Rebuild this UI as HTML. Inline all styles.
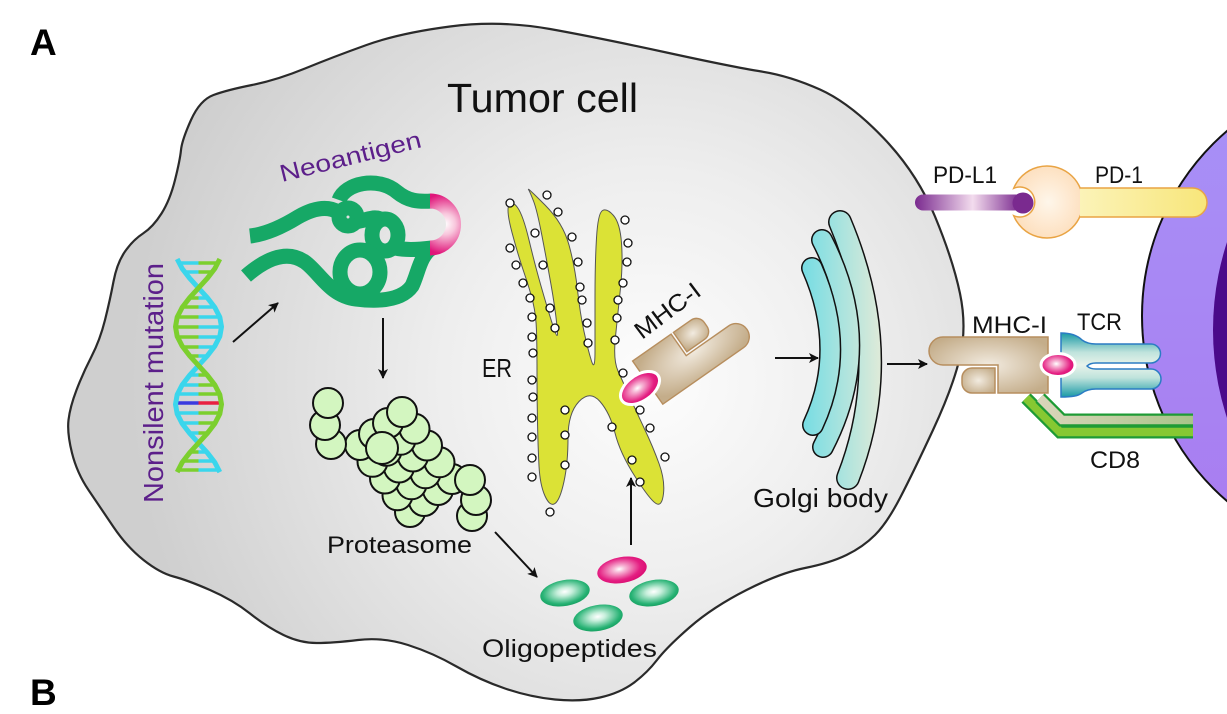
<!DOCTYPE html>
<html><head><meta charset="utf-8"><style>html,body{margin:0;padding:0;background:#fff}svg{display:block}</style></head>
<body>
<svg width="1227" height="714" viewBox="0 0 1227 714" xmlns="http://www.w3.org/2000/svg" font-family="'Liberation Sans', Arial, sans-serif">
<defs>
<radialGradient id="cellG" gradientUnits="userSpaceOnUse" cx="650" cy="380" r="520"><stop offset="0" stop-color="#fdfdfd"/><stop offset="0.4" stop-color="#eeeeee"/><stop offset="1" stop-color="#cfcfcf"/></radialGradient>
<linearGradient id="tG" x1="0" y1="0" x2="0" y2="1"><stop offset="0" stop-color="#a792f7"/><stop offset="1" stop-color="#a97bf0"/></linearGradient>
<radialGradient id="pinkG" cx="0.45" cy="0.45" r="0.6"><stop offset="0" stop-color="#fff"/><stop offset="0.2" stop-color="#f7b8d6"/><stop offset="0.7" stop-color="#e41f82"/><stop offset="1" stop-color="#d90a70"/></radialGradient>
<radialGradient id="grnG" cx="0.5" cy="0.45" r="0.6"><stop offset="0" stop-color="#fff"/><stop offset="0.25" stop-color="#c8efdc"/><stop offset="0.75" stop-color="#27b274"/><stop offset="1" stop-color="#109858"/></radialGradient>
<radialGradient id="mhcG" cx="0.5" cy="0.5" r="0.6"><stop offset="0" stop-color="#f2ebe0"/><stop offset="1" stop-color="#c4ad8a"/></radialGradient>
<linearGradient id="golG" gradientUnits="userSpaceOnUse" x1="800" y1="0" x2="885" y2="0"><stop offset="0" stop-color="#72dce4"/><stop offset="1" stop-color="#e4ebd8"/></linearGradient>
<linearGradient id="pdl1G" gradientUnits="userSpaceOnUse" x1="915" y1="0" x2="1020" y2="0"><stop offset="0" stop-color="#7a2a8f"/><stop offset="0.55" stop-color="#f3dcee"/><stop offset="1" stop-color="#7a2a8f"/></linearGradient>
<linearGradient id="pd1G" x1="0" y1="0" x2="1" y2="0"><stop offset="0" stop-color="#fbf3b8"/><stop offset="1" stop-color="#f8e67a"/></linearGradient>
<radialGradient id="cupG" cx="0.5" cy="0.5" r="0.6"><stop offset="0" stop-color="#fef6ea"/><stop offset="1" stop-color="#fddcb8"/></radialGradient>
<linearGradient id="tcrG" gradientUnits="userSpaceOnUse" x1="0" y1="333" x2="0" y2="397"><stop offset="0" stop-color="#1a9aa6"/><stop offset="0.3" stop-color="#bfe3dc"/><stop offset="0.5" stop-color="#e8f3ea"/><stop offset="0.7" stop-color="#bfe3dc"/><stop offset="1" stop-color="#1a9aa6"/></linearGradient>
<linearGradient id="cd8a" gradientUnits="userSpaceOnUse" x1="1030" y1="0" x2="1195" y2="0"><stop offset="0" stop-color="#ddd6bd"/><stop offset="1" stop-color="#a8c488"/></linearGradient>
<radialGradient id="hookG" gradientUnits="userSpaceOnUse" cx="445" cy="224" r="30"><stop offset="0" stop-color="#fff"/><stop offset="0.35" stop-color="#f8c6dc"/><stop offset="1" stop-color="#e0157a"/></radialGradient>
<marker id="ah" viewBox="0 0 10 10" refX="9" refY="5" markerWidth="5" markerHeight="5" orient="auto" markerUnits="strokeWidth"><path d="M0,0 L10,5 L0,10 L2.5,5 z" fill="#111"/></marker>
</defs>

<!-- T cell -->
<circle cx="1386" cy="316" r="244" fill="url(#tG)" stroke="#111" stroke-width="2"/>
<circle cx="1496" cy="330" r="283" fill="#4a0a8a"/>

<!-- Tumor cell -->
<path d="M450,26.5 Q500,20 550,29 Q600,38 666.5,52.5 Q733,67 761.5,71.5 Q790,76 820,89.5 Q850,103 883.5,138 Q917,173 935,216.5 Q953,260 960,293.5 Q967,327 960,357 Q953,387 933,430 Q913,473 900,498 Q887,523 875,535 Q863,547 846.5,555 Q830,563 805,568 Q780,573 746.5,590 Q713,607 690,627 Q667,647 657,660 Q647,673 633.5,683 Q620,693 600,697.5 Q580,702 555,699.5 Q530,697 505,688.5 Q480,680 456.5,666.5 Q433,653 408,645 Q383,637 358,640 Q333,643 316.5,643 Q300,643 283.5,635 Q267,627 250,613.5 Q233,600 210,590 Q187,580 173.5,576.5 Q160,573 143.5,560 Q127,547 113.5,527 Q100,507 88.5,490 Q77,473 72,453 Q67,433 68.5,420 Q70,407 76.5,390 Q83,373 91.5,356.5 Q100,340 105,320 Q110,300 113.5,281.5 Q117,263 125,251.5 Q133,240 143,233.5 Q153,227 161.5,213.5 Q170,200 175,180 Q180,160 181,150 Q182,140 191,120 Q200,100 213.5,95 Q227,90 252,85 Q277,80 305,68.5 Q333,57 366.5,45 Q400,33 450,26.5 Z" fill="url(#cellG)" stroke="#2a2a2a" stroke-width="2.2"/>

<!-- Labels A / B -->
<text x="30" y="55" font-size="37" font-weight="bold" fill="#000">A</text>
<text x="30" y="705" font-size="37" font-weight="bold" fill="#000">B</text>
<text x="447" y="112" font-size="41" fill="#111" textLength="191" lengthAdjust="spacingAndGlyphs">Tumor cell</text>

<!-- DNA rungs -->
<g stroke-width="3.5">
<g stroke="#3ad6ec"><line x1="179" y1="263" x2="198.5" y2="263"/><line x1="184.6" y1="272" x2="198.5" y2="272"/>
<line x1="198.5" y1="298" x2="207.6" y2="298"/><line x1="198.5" y1="307" x2="214.5" y2="307"/><line x1="198.5" y1="317" x2="219.7" y2="317"/><line x1="198.5" y1="327" x2="221.5" y2="327"/><line x1="198.5" y1="337" x2="219.5" y2="337"/><line x1="198.5" y1="347" x2="214.2" y2="347"/><line x1="198.5" y1="356" x2="207.1" y2="356"/>
<line x1="189.9" y1="375" x2="198.5" y2="375"/><line x1="182.1" y1="385" x2="198.5" y2="385"/><line x1="177.5" y1="394" x2="198.5" y2="394"/><line x1="176.8" y1="413" x2="198.5" y2="413"/><line x1="181.9" y1="423" x2="198.5" y2="423"/><line x1="189.5" y1="433" x2="198.5" y2="433"/>
<line x1="198.5" y1="452" x2="206.7" y2="452"/><line x1="198.5" y1="461" x2="213.8" y2="461"/><line x1="198.5" y1="470" x2="218.9" y2="470"/></g>
<g stroke="#7ccf2e"><line x1="198.5" y1="263" x2="218" y2="263"/><line x1="198.5" y1="272" x2="212.4" y2="272"/>
<line x1="189.4" y1="298" x2="198.5" y2="298"/><line x1="182.5" y1="307" x2="198.5" y2="307"/><line x1="177.3" y1="317" x2="198.5" y2="317"/><line x1="175.5" y1="327" x2="198.5" y2="327"/><line x1="177.5" y1="337" x2="198.5" y2="337"/><line x1="182.8" y1="347" x2="198.5" y2="347"/><line x1="189.9" y1="356" x2="198.5" y2="356"/>
<line x1="198.5" y1="375" x2="207.1" y2="375"/><line x1="198.5" y1="385" x2="214.9" y2="385"/><line x1="198.5" y1="394" x2="219.5" y2="394"/><line x1="198.5" y1="413" x2="220.2" y2="413"/><line x1="198.5" y1="423" x2="215.1" y2="423"/><line x1="198.5" y1="433" x2="207.5" y2="433"/>
<line x1="190.3" y1="452" x2="198.5" y2="452"/><line x1="183.2" y1="461" x2="198.5" y2="461"/><line x1="178.1" y1="470" x2="198.5" y2="470"/></g>
<line x1="176" y1="403" x2="198.5" y2="403" stroke="#3a3adf"/><line x1="198.5" y1="403" x2="221" y2="403" stroke="#e82040"/>
</g>
<polyline fill="none" stroke="#3ad6ec" stroke-width="5" stroke-linejoin="round" points="177.2,259 182.2,268.6 189.7,278.3 198.5,288 207.3,297.7 214.8,307.4 219.8,317.1 221.5,326.8 219.8,336.4 214.8,346.1 207.3,355.8 198.5,365.5 189.7,375.2 182.2,384.9 177.2,394.6 175.5,404.3 177.2,413.9 182.2,423.6 189.7,433.3 198.5,443 207.3,452.7 214.8,462.4 219.8,472.1"/>
<polyline fill="none" stroke="#7ccf2e" stroke-width="5" stroke-linejoin="round" points="219.8,259 214.8,268.6 207.3,278.3 198.5,288 189.7,297.7 182.2,307.4 177.2,317.1 175.5,326.8 177.2,336.4 182.2,346.1 189.7,355.8 198.5,365.5 207.3,375.2 214.8,384.9 219.8,394.6 221.5,404.3 219.8,413.9 214.8,423.6 207.3,433.3 198.5,443 189.7,452.7 182.2,462.4 177.2,472.1"/>
<text transform="translate(163,503) rotate(-90)" font-size="28" fill="#5c1f8a" textLength="240" lengthAdjust="spacingAndGlyphs">Nonsilent mutation</text>

<!-- Neoantigen -->
<g fill="none" stroke="#16a866" stroke-width="15">
<path d="M250,236 C268,234 285,225 298,217 C312,209 326,205 338,212"/>
<circle cx="348" cy="217" r="9"/>
<path d="M339,200 C345,183 378,176 397,192 C408,201 418,202 432,201"/>
<ellipse cx="385" cy="235" rx="13" ry="16"/>
<ellipse cx="360" cy="272" rx="20" ry="22"/>
<path d="M246,276 C262,262 285,248 305,262 C320,273 330,296 356,299 C380,302 402,300 412,286 C418,274 420,255 432,248"/>
<path d="M355,222 C368,220 375,215 382,220"/>
<path d="M395,248 C405,250 415,250 432,248"/>
</g>
<path d="M430,201 A23.5,23.5 0 0 1 430,248" fill="none" stroke="url(#hookG)" stroke-width="15"/>
<text transform="translate(282,182) rotate(-14)" font-size="24" fill="#5c1f8a" textLength="145" lengthAdjust="spacingAndGlyphs">Neoantigen</text>

<!-- Arrows -->
<g stroke="#111" stroke-width="2" marker-end="url(#ah)">
<line x1="233" y1="342" x2="278" y2="303"/>
<line x1="383" y1="318" x2="383" y2="378"/>
<line x1="495" y1="532" x2="537" y2="577"/>
<line x1="631" y1="545" x2="631" y2="478"/>
<line x1="775" y1="358" x2="818" y2="358"/>
<line x1="887" y1="364" x2="927" y2="364"/>
</g>

<!-- Proteasome -->
<g fill="#d3f6c0" stroke="#111" stroke-width="2">
<circle cx="410" cy="512" r="15"/><circle cx="424" cy="501" r="15"/><circle cx="438" cy="490" r="15"/><circle cx="452" cy="479" r="15"/>
<circle cx="397.5" cy="495.3" r="15"/><circle cx="411.5" cy="484.3" r="15"/><circle cx="425.5" cy="473.3" r="15"/><circle cx="439.5" cy="462.3" r="15"/>
<circle cx="385" cy="478.5" r="15"/><circle cx="399" cy="467.5" r="15"/><circle cx="413" cy="456.5" r="15"/><circle cx="427" cy="445.5" r="15"/>
<circle cx="372.5" cy="461.8" r="15"/><circle cx="386.5" cy="450.8" r="15"/><circle cx="400.5" cy="439.8" r="15"/><circle cx="414.5" cy="428.8" r="15"/>
<circle cx="360" cy="445" r="15"/><circle cx="374" cy="434" r="15"/><circle cx="388" cy="423" r="15"/><circle cx="402" cy="412" r="15"/>
<circle cx="382" cy="448" r="16"/>
<circle cx="472" cy="516" r="15"/><circle cx="476" cy="500" r="15"/><circle cx="470" cy="480" r="15"/>
<circle cx="331" cy="444" r="15"/><circle cx="325" cy="425" r="15"/><circle cx="328" cy="403" r="15"/>
</g>
<text x="327" y="553" font-size="24" fill="#111" textLength="145" lengthAdjust="spacingAndGlyphs">Proteasome</text>

<!-- ER -->
<path d="M528.5,189.5 Q527,187 545,205 Q563,223 569,245 Q575,267 577.5,290 Q580,313 584,331.5 Q588,350 591.5,361 Q595,372 595,351 Q595,330 595,296.5 Q595,263 596.5,238 Q598,213 602.5,210.5 Q607,208 613.5,215.5 Q620,223 621.5,243 Q623,263 620.5,288 Q618,313 615.5,336.5 Q613,360 618,371 Q623,382 630,397.5 Q637,413 645,430 Q653,447 659,463.5 Q665,480 663.5,493.5 Q662,507 656,503.5 Q650,500 635,476.5 Q620,453 615,433 Q610,413 600,401.5 Q590,390 579,401.5 Q568,413 568,438 Q568,463 564,481.5 Q560,500 555,503.5 Q550,507 545,496 Q540,485 539,466 Q538,447 537.5,422 Q537,397 537,372 Q537,347 536.5,331 Q536,315 533,302.5 Q530,290 524,272.5 Q518,255 512,232.5 Q506,210 509,205 Q512,200 517.5,207.5 Q523,215 529,240 Q535,265 541,286 Q547,307 553,326 Q559,345 557,326 Q555,307 551,284.5 Q547,262 542,236 Q537,210 533.5,201 Q530,192 528.5,189.5 Z" fill="#dbe236" stroke="#555" stroke-width="1"/>
<g fill="#fff" stroke="#111" stroke-width="1.3">
<circle cx="510" cy="203" r="4"/><circle cx="510" cy="248" r="4"/><circle cx="516" cy="265" r="4"/><circle cx="523" cy="283" r="4"/><circle cx="530" cy="298" r="4"/><circle cx="532" cy="317" r="4"/><circle cx="532" cy="337" r="4"/><circle cx="533" cy="353" r="4"/><circle cx="532" cy="380" r="4"/><circle cx="533" cy="397" r="4"/><circle cx="532" cy="418" r="4"/><circle cx="532" cy="437" r="4"/><circle cx="532" cy="458" r="4"/><circle cx="532" cy="477" r="4"/>
<circle cx="535" cy="233" r="4"/><circle cx="543" cy="265" r="4"/><circle cx="550" cy="308" r="4"/><circle cx="555" cy="328" r="4"/>
<circle cx="547" cy="195" r="4"/><circle cx="558" cy="212" r="4"/><circle cx="572" cy="237" r="4"/><circle cx="578" cy="262" r="4"/><circle cx="580" cy="287" r="4"/><circle cx="582" cy="300" r="4"/><circle cx="587" cy="323" r="4"/><circle cx="588" cy="343" r="4"/>
<circle cx="625" cy="220" r="4"/><circle cx="628" cy="243" r="4"/><circle cx="627" cy="262" r="4"/><circle cx="623" cy="283" r="4"/><circle cx="618" cy="300" r="4"/><circle cx="617" cy="318" r="4"/><circle cx="615" cy="340" r="4"/><circle cx="623" cy="373" r="4"/>
<circle cx="565" cy="410" r="4"/><circle cx="565" cy="435" r="4"/><circle cx="565" cy="465" r="4"/>
<circle cx="612" cy="427" r="4"/><circle cx="640" cy="410" r="4"/><circle cx="650" cy="428" r="4"/><circle cx="632" cy="460" r="4"/><circle cx="640" cy="482" r="4"/><circle cx="665" cy="457" r="4"/><circle cx="550" cy="512" r="4"/>
</g>
<text x="482" y="377" font-size="26" fill="#111" textLength="30" lengthAdjust="spacingAndGlyphs">ER</text>

<!-- ER MHC-I -->
<g transform="translate(640,388) rotate(145) scale(0.94) translate(-1058,-365)" fill="url(#mhcG)" stroke="#b78e5e" stroke-width="1.5">
<path d="M943,337 L1048,337 L1048,393 L998,393 L998,365 L943,365 A14,14 0 0 1 943,337 Z"/>
<path d="M972,368 L995,368 L995,393 L972,393 A10,10 0 0 1 962,383 L962,378 A10,10 0 0 1 972,368 Z"/>
</g>
<ellipse cx="640" cy="388" rx="22" ry="13" transform="rotate(-35 640 388)" fill="url(#pinkG)" stroke="#fff" stroke-width="3"/>
<text transform="translate(642,340) rotate(-37)" font-size="24" fill="#111" textLength="76" lengthAdjust="spacingAndGlyphs">MHC-I</text>

<!-- Golgi -->
<g fill="none" stroke-linecap="round">
<path d="M840,222 Q896,355 848,478" stroke="#111" stroke-width="24"/>
<path d="M840,222 Q896,355 848,478" stroke="url(#golG)" stroke-width="21"/>
<path d="M822,240 Q876,345 823,447" stroke="#111" stroke-width="22"/>
<path d="M822,240 Q876,345 823,447" stroke="url(#golG)" stroke-width="19"/>
<path d="M812,268 Q848,350 813,425" stroke="#111" stroke-width="22"/>
<path d="M812,268 Q848,350 813,425" stroke="url(#golG)" stroke-width="19"/>
</g>
<text x="753" y="507" font-size="26" fill="#111" textLength="135" lengthAdjust="spacingAndGlyphs">Golgi body</text>

<!-- Oligopeptides -->
<ellipse cx="622" cy="570" rx="25" ry="13" transform="rotate(-10 622 570)" fill="url(#pinkG)"/>
<ellipse cx="565" cy="593" rx="25" ry="13" transform="rotate(-10 565 593)" fill="url(#grnG)"/>
<ellipse cx="654" cy="593" rx="25" ry="13" transform="rotate(-10 654 593)" fill="url(#grnG)"/>
<ellipse cx="598" cy="618" rx="25" ry="13" transform="rotate(-10 598 618)" fill="url(#grnG)"/>
<text x="482" y="657" font-size="25" fill="#111" textLength="175" lengthAdjust="spacingAndGlyphs">Oligopeptides</text>

<!-- PD-1 -->
<path d="M1013.7,188.3 A36,36 0 1 1 1013.7,215.7 A15,15 0 1 0 1013.7,188.3 Z" fill="url(#cupG)" stroke="#e9a444" stroke-width="1.5"/>
<path d="M1080,188 L1192.5,188 A14.5,14.5 0 0 1 1192.5,217 L1080,217" fill="url(#pd1G)" stroke="#e9a444" stroke-width="1.5"/>
<!-- PD-L1 -->
<line x1="923" y1="202.5" x2="1018" y2="202.5" stroke="url(#pdl1G)" stroke-width="16" stroke-linecap="round"/>
<circle cx="1023" cy="203" r="10.5" fill="#7a2a8f"/>
<text x="933" y="183" font-size="24" fill="#111" textLength="64" lengthAdjust="spacingAndGlyphs">PD-L1</text>
<text x="1095" y="183" font-size="24" fill="#111" textLength="48" lengthAdjust="spacingAndGlyphs">PD-1</text>

<!-- CD8 -->
<g fill="none" stroke-linejoin="miter">
<polyline points="1026,398 1060,432 1193,432" stroke="#1e9b35" stroke-width="13"/>
<polyline points="1026,398 1060,432 1193,432" stroke="#86c832" stroke-width="8.5"/>
<polyline points="1040,398 1062,420 1193,420" stroke="#1e9b35" stroke-width="13"/>
<polyline points="1040,398 1062,420 1193,420" stroke="url(#cd8a)" stroke-width="8.5"/>
</g>
<text x="1090" y="468" font-size="24" fill="#111" textLength="50" lengthAdjust="spacingAndGlyphs">CD8</text>

<!-- MHC-I right -->
<g fill="url(#mhcG)" stroke="#b78e5e" stroke-width="1.5">
<path d="M943,337 L1048,337 L1048,393 L998,393 L998,365 L943,365 A14,14 0 0 1 943,337 Z"/>
<path d="M972,368 L995,368 L995,393 L972,393 A10,10 0 0 1 962,383 L962,378 A10,10 0 0 1 972,368 Z"/>
</g>
<!-- TCR -->
<path d="M1061,333 C1072,333 1078,336 1082,340 C1086,343 1090,344 1096,344 L1151,344 A9.5,9.5 0 0 1 1151,363 L1096,363 C1091,363 1088,365 1087,366 C1088,367 1091,369 1096,369 L1151,369 A10,10 0 0 1 1151,389 L1096,389 C1090,389 1086,390 1082,393 C1078,396 1072,397 1061,397 Z" fill="url(#tcrG)" stroke="#2b7cc4" stroke-width="1.5"/>
<ellipse cx="1058" cy="365" rx="17" ry="11.5" fill="url(#pinkG)" stroke="#fff" stroke-width="3"/>
<text x="972" y="333" font-size="24" fill="#111" textLength="75" lengthAdjust="spacingAndGlyphs">MHC-I</text>
<text x="1077" y="330" font-size="24" fill="#111" textLength="45" lengthAdjust="spacingAndGlyphs">TCR</text>
</svg>
</body></html>
